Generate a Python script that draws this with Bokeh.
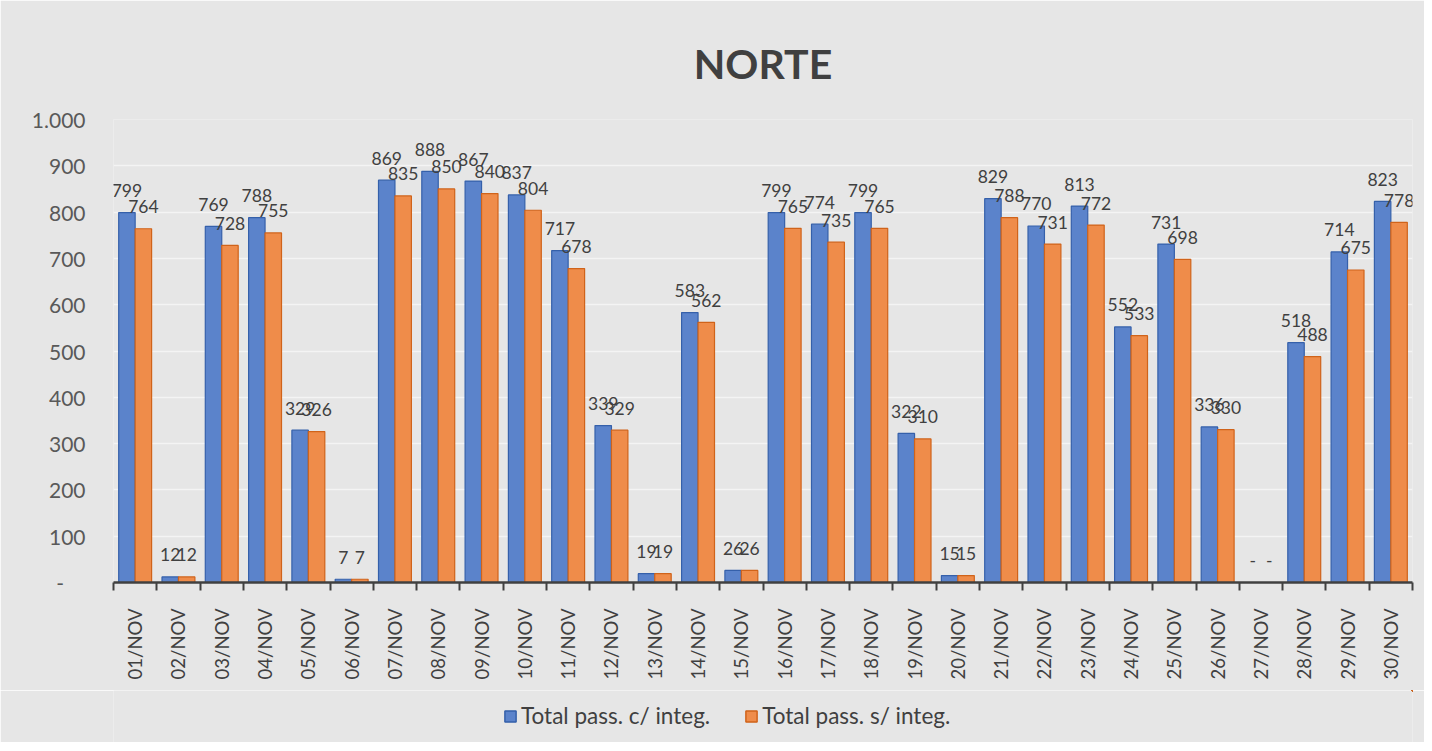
import math
from bokeh.plotting import figure
from bokeh.layouts import column
from bokeh.models import (FixedTicker, CustomJSTickFormatter, Legend, LegendItem,
                          ColumnDataSource, Range1d)
from bokeh.transform import dodge
from bokeh.core.properties import value
from bokeh.embed import file_html
from bokeh.resources import INLINE

days = ["01/NOV", "02/NOV", "03/NOV", "04/NOV", "05/NOV", "06/NOV", "07/NOV", "08/NOV",
        "09/NOV", "10/NOV", "11/NOV", "12/NOV", "13/NOV", "14/NOV", "15/NOV", "16/NOV",
        "17/NOV", "18/NOV", "19/NOV", "20/NOV", "21/NOV", "22/NOV", "23/NOV", "24/NOV",
        "25/NOV", "26/NOV", "27/NOV", "28/NOV", "29/NOV", "30/NOV"]
com_integ = [799, 12, 769, 788, 329, 7, 869, 888, 867, 837, 717, 339, 19, 583, 26,
             799, 774, 799, 322, 15, 829, 770, 813, 552, 731, 336, 0, 518, 714, 823]
sem_integ = [764, 12, 728, 755, 326, 7, 835, 850, 840, 804, 678, 329, 19, 562, 26,
             765, 735, 765, 310, 15, 788, 731, 772, 533, 698, 330, 0, 488, 675, 778]
y_ticks = [0, 100, 200, 300, 400, 500, 600, 700, 800, 900, 1000]
series_names = ["Total pass. c/ integ.", "Total pass. s/ integ."]


def fmt(v):
    return "-" if v == 0 else f"{v:,}".replace(",", ".")


FONT = "Lato"
BLUE, BLUE_LINE = "#5B83CB", "#3560AA"
ORANGE, ORANGE_LINE = "#EF8C4A", "#D0631A"
TXT = "#404040"
BG = "#e6e6e6"

idx = list(range(1, len(days) + 1))
src = ColumnDataSource(dict(
    x=idx, c=com_integ, s=sem_integ,
    c_lbl=[fmt(v) for v in com_integ], s_lbl=[fmt(v) for v in sem_integ],
))

p = figure(width=1424, height=690, output_backend="svg", toolbar_location=None,
           x_range=Range1d(0.5, len(days) + 0.5), y_range=Range1d(0, 1000),
           min_border_left=113, min_border_right=12, min_border_top=119,
           min_border_bottom=108)
p.background_fill_color = BG
p.border_fill_color = BG
p.outline_line_color = None

p.title.text = "NORTE"
p.title.align = "center"
p.title.text_font = FONT
p.title.text_font_size = "41px"
p.title.text_font_style = "bold"
p.title.text_color = TXT
p.title.text_line_height = 1.0
p.title.standoff = 63

off = 0.19
w = 0.38
p.vbar(x=dodge("x", -off, range=p.x_range), top="c", width=w, source=src,
       fill_color=BLUE, line_color=BLUE_LINE, line_width=1.2)
p.vbar(x=dodge("x", off, range=p.x_range), top="s", width=w, source=src,
       fill_color=ORANGE, line_color=ORANGE_LINE, line_width=1.2)

for col, lbl, d in (("c", "c_lbl", -off), ("s", "s_lbl", off)):
    p.text(x=dodge("x", d, range=p.x_range), y=col, text=lbl, source=src,
           text_align="center", text_baseline="middle", y_offset=-22,
           text_font=value(FONT), text_font_size="17.5px", text_color=TXT)

# y axis
p.yaxis.ticker = FixedTicker(ticks=y_ticks)
p.yaxis.formatter = CustomJSTickFormatter(code="""
    if (tick == 0) { return "-\u00a0\u00a0\u00a0\u00a0"; }
    return tick.toString().replace(/\\B(?=(\\d{3})+(?!\\d))/g, ".");
""")
p.yaxis.axis_line_color = None
p.yaxis.major_tick_line_color = None
p.yaxis.minor_tick_line_color = None
p.yaxis.major_label_text_font = FONT
p.yaxis.major_label_text_font_size = "21px"
p.yaxis.major_label_text_color = "#595959"
p.yaxis.major_label_standoff = 22

p.ygrid.grid_line_color = "#f4f4f4"
p.ygrid.grid_line_width = 1.5
p.xgrid.grid_line_color = None

# x axis
p.xaxis.ticker = FixedTicker(ticks=idx, minor_ticks=[i + 0.5 for i in range(len(days) + 1)])
p.xaxis.major_label_overrides = {i: d for i, d in zip(idx, days)}
p.xaxis.major_tick_line_color = None
p.xaxis.minor_tick_line_color = "#404040"
p.xaxis.minor_tick_line_width = 2
p.xaxis.minor_tick_in = 0
p.xaxis.minor_tick_out = 8
p.xaxis.axis_line_color = "#404040"
p.xaxis.axis_line_width = 2.5
p.xaxis.major_label_orientation = math.pi / 2
p.xaxis.major_label_text_font = FONT
p.xaxis.major_label_text_font_size = "18.5px"
p.xaxis.major_label_text_color = TXT
p.xaxis.major_label_standoff = 18

# legend strip: proxy renderers (same data, kept outside this strip's view)
p2 = figure(width=1424, height=52, output_backend="svg", toolbar_location=None,
            x_range=Range1d(-30, -20), y_range=Range1d(-30, -20),
            min_border_left=0, min_border_right=0, min_border_top=0, min_border_bottom=0)
p2.background_fill_color = BG
p2.border_fill_color = BG
p2.outline_line_color = None
p2.axis.visible = False
p2.grid.grid_line_color = None
lb = p2.vbar(x="x", top="c", width=w, source=src,
             fill_color=BLUE, line_color=BLUE_LINE, line_width=1.5)
lo = p2.vbar(x="x", top="s", width=w, source=src,
             fill_color=ORANGE, line_color=ORANGE_LINE, line_width=1.5)
legend = Legend(items=[LegendItem(label=series_names[0], renderers=[lb]),
                       LegendItem(label=series_names[1], renderers=[lo])],
                orientation="horizontal", location=(390, 13), padding=0, margin=0,
                background_fill_alpha=0, border_line_color=None,
                label_text_font=FONT, label_text_font_size="22.5px",
                label_text_color=TXT, glyph_width=14, glyph_height=14,
                spacing=34, label_standoff=4)
p2.add_layout(legend)

layout = column(p, p2, spacing=0)
open("out.html", "w").write(file_html(layout, INLINE))
